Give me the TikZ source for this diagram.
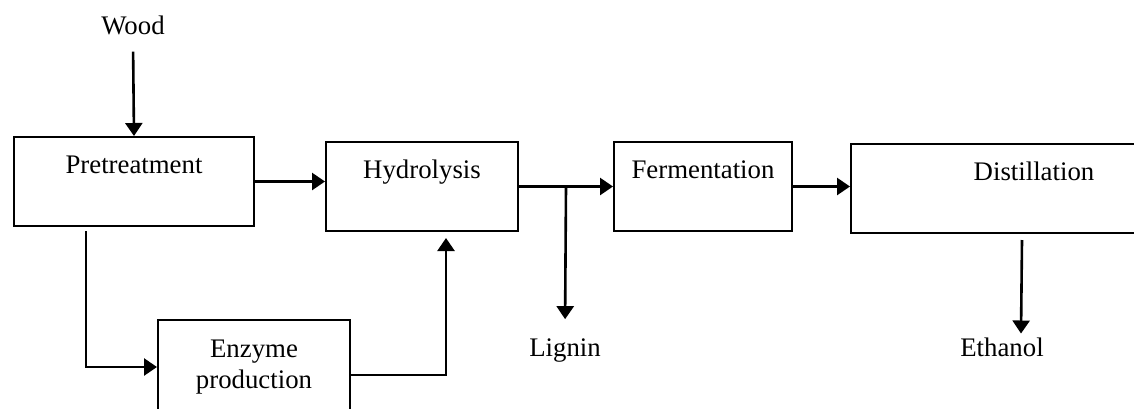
\documentclass[tikz,border=0pt]{standalone}
\usepackage{fontspec}
\setmainfont{Liberation Serif}
\usetikzlibrary{arrows.meta}
\usetikzlibrary{calc}

\begin{document}
\begin{tikzpicture}[x = 0.5pt, y = -0.5pt, font = \fontsize{13.4}{15.5}\selectfont,
		>={Triangle[length = 6.5pt, width = 8.5pt]},
		stage/.style = {draw, black, line width = 1pt, anchor = north west, inner sep = 0pt, text height = 18pt, text depth = 26.5pt},
		flow/.style = {black, line width = 1.3pt, ->}]
	\useasboundingbox (0, 0) rectangle (1134, 408);
	\node [stage, minimum width = 120pt] (pretreat) at (13, 136) {Pretreatment};
	\node [stage, minimum width = 96pt] (hydro) at (325, 141) {Hydrolysis};
	\node [stage, minimum width = 89pt] (ferm) at (613, 141) {Fermentation};
	\node [stage, minimum width = 183pt] (distill) at (850, 143) {Distillation};
	\node [stage, minimum width = 96pt, align = center, text height = 34pt, text depth = 17pt] (enzyme) at (157, 319) {Enzyme\\production};
	\node (wood) at (133, 25) {Wood};
	\node (lignin) at (565, 351) {Lignin};
	\node (ethanol) at (1002, 347) {Ethanol};
	\draw [flow, shorten <= 5pt] (wood.south) -- (pretreat.north);
	\draw [flow] (pretreat.east) -- (pretreat.east -| hydro.west);
	\draw [flow] (hydro.east) -- (ferm.west);
	\draw [flow] (ferm.east) -- (ferm.east -| distill.west);
	\coordinate (split) at ($(hydro.east)!0.5!(ferm.west)$);
	\draw [flow, shorten >= 6.5pt] (split) -- (lignin.north);
	\draw [flow] ([xshift = -6pt, yshift = -3pt]distill.south) -- ([xshift = 9.5pt, yshift = -1.5pt]ethanol.north);
	\draw [flow] ([xshift = -24pt, yshift = -2pt]pretreat.south) |- ([yshift = 2pt]enzyme.west);
	\draw [flow] ([yshift = -2pt]enzyme.east) -| ([xshift = 12pt, yshift = -3pt]hydro.south);
\end{tikzpicture}
\end{document}
